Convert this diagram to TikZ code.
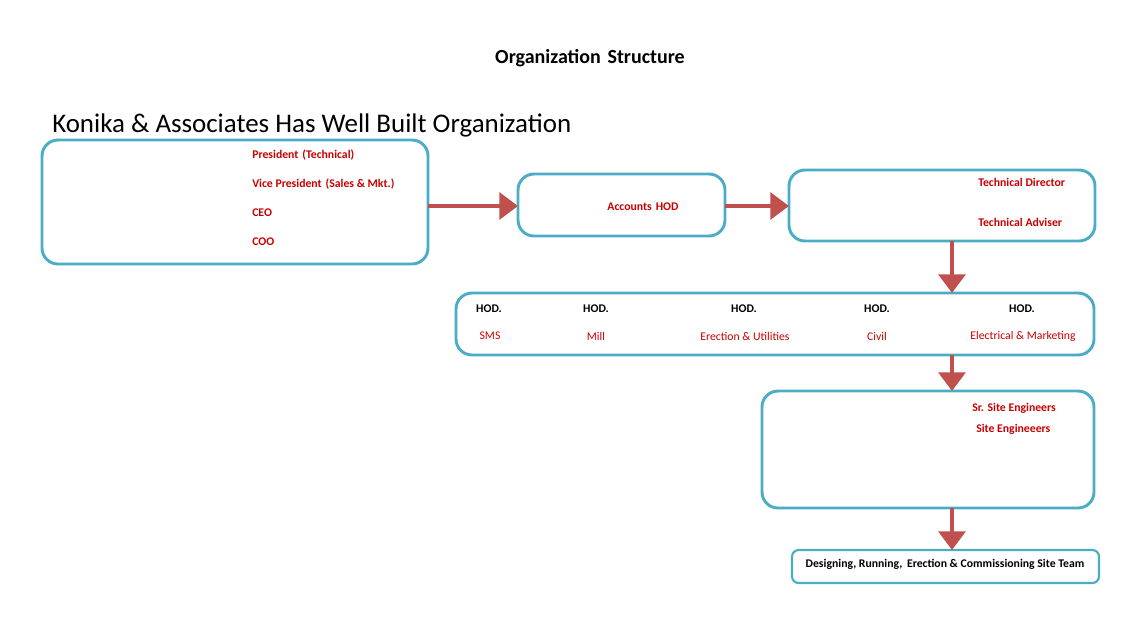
\documentclass[tikz,border=0pt]{standalone}
\usepackage{fontspec}
\setmainfont{Carlito}
\usetikzlibrary{arrows.meta}
\definecolor{boxc}{RGB}{75,172,198}
\definecolor{arr}{RGB}{192,80,77}
\definecolor{txtred}{RGB}{200,0,0}
\tikzset{
 box/.style={draw=boxc,line width=2.2pt,rounded corners=12pt},
 conn/.style={draw=arr,line width=3.2pt,-{Triangle[length=14pt,width=20pt]}},
 rt/.style={text=txtred,font=\bfseries\fontsize{8.8}{10}\selectfont,anchor=west,inner sep=0},
 rn/.style={text=txtred,font=\fontsize{8.8}{10}\selectfont,inner sep=0},
 bt/.style={font=\bfseries\fontsize{8.8}{10}\selectfont,inner sep=0}
}
\begin{document}
\begin{tikzpicture}[x=0.75pt,y=-0.75pt]
\useasboundingbox (0,0) rectangle (1133,626);
\node[font=\bfseries\fontsize{15}{17}\selectfont] (title) at (590,58) {Organization\,\,Structure};
\node[font=\fontsize{20.2}{22}\selectfont,anchor=west,inner sep=0] (head) at (52,125) {Konika \& Associates Has Well Built Organization};
\draw[box] (42,140) rectangle (428,264);
\coordinate (Ar) at (428,206);
\draw[box] (518,174) rectangle (725,236);
\coordinate (Bl) at (518,206); \coordinate (Br) at (725,206);
\draw[box] (789,170) rectangle (1095,241);
\coordinate (Cl) at (789,206); \coordinate (Cb) at (952,241);
\draw[box] (456,293) rectangle (1094,355);
\coordinate (Dt) at (952,293); \coordinate (Db) at (952,355);
\draw[box] (762,391) rectangle (1094,508);
\coordinate (Et) at (952,391); \coordinate (Eb) at (952,508);
\draw[box,line width=1.6pt,rounded corners=5pt] (792,550) rectangle (1099,583);
\coordinate (Ft) at (952,550);
\draw[conn] (Ar) -- (Bl);
\draw[conn] (Br) -- (Cl);
\draw[conn] (Cb) -- (Dt);
\draw[conn] (Db) -- (Et);
\draw[conn] (Eb) -- (Ft);
\node[rt] (a1) at (252,155) {President\,\,(Technical)};
\node[rt] (a2) at (252,184) {Vice President\,\,(Sales \& Mkt.)};
\node[rt] (a3) at (252,213) {CEO};
\node[rt] (a4) at (252,242) {COO};
\node[rt,anchor=center] (b1) at (643,207) {Accounts\,\,HOD};
\node[rt] (c1) at (978,182) {Technical Director};
\node[rt] (c2) at (978,222) {Technical Adviser};
\node[bt] (h1) at (489,309) {HOD.};
\node[bt] (h2) at (596,309) {HOD.};
\node[bt] (h3) at (744,309) {HOD.};
\node[bt] (h4) at (877,309) {HOD.};
\node[bt] (h5) at (1022,309) {HOD.};
\node[rn] (d1) at (490,336) {SMS};
\node[rn] (d2) at (596,336) {Mill};
\node[rn] (d3) at (745,336) {Erection \& Utilities};
\node[rn] (d4) at (877,336) {Civil};
\node[rn] (d5) at (1023,336) {Electrical \& Marketing};
\node[rt] (e1) at (972,408) {Sr. Site Engineers};
\node[rt] (e2) at (976,429) {Site Engineeers};
\node[bt] (f1) at (945,564) {Designing, Running,\, Erection \& Commissioning Site Team};
\end{tikzpicture}
\end{document}
